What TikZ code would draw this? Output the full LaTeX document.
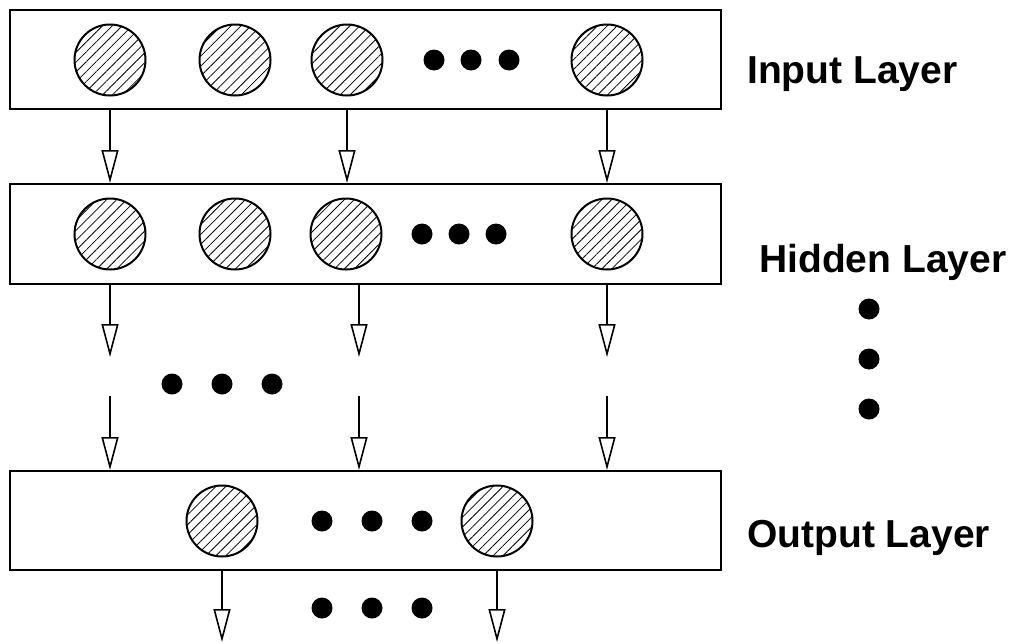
\documentclass[tikz,border=0pt]{standalone}
\usepackage{fontspec}
\setmainfont{Liberation Sans}
\usetikzlibrary{arrows.meta,patterns.meta}
\begin{document}
\begin{tikzpicture}[x=1pt,y=-1pt,
  layerbox/.style={draw,line width=2pt,rectangle,minimum width=711pt,inner sep=0pt},
  neuron/.style={circle,draw,line width=2pt,minimum size=71pt,inner sep=0pt,
    pattern={Lines[angle=45,distance=7pt,line width=0.8pt]}},
  bigdot/.style={circle,fill=black,minimum size=21pt,inner sep=0pt},
  arr/.style={line width=1.5pt,-{Triangle[open,length=33pt,width=17pt,line width=1.6pt]}},
  lbl/.style={anchor=base west,inner sep=0pt,font=\fontsize{39}{45}\selectfont\bfseries}]
\useasboundingbox (0,0) rectangle (1012,643);
% boxes
\node[layerbox,minimum height=99pt] (in) at (365.5,59.5) {};
\node[layerbox,minimum height=100pt] (hid) at (365.5,234) {};
\node[layerbox,minimum height=99pt] (out) at (365.5,520.5) {};
% input layer
\node[neuron] (i1) at (110,60) {};
\node[neuron] (i2) at (235,60) {};
\node[neuron] (i3) at (347,60) {};
\node[neuron] (i4) at (607,60) {};
\node[bigdot] (id1) at (434,60) {};
\node[bigdot] (id2) at (471,60) {};
\node[bigdot] (id3) at (509,60) {};
% hidden layer
\node[neuron] (h1) at (110,234) {};
\node[neuron] (h2) at (235,234) {};
\node[neuron] (h3) at (346,234) {};
\node[neuron] (h4) at (607,234) {};
\node[bigdot] (hd1) at (422,234) {};
\node[bigdot] (hd2) at (459,234) {};
\node[bigdot] (hd3) at (496,234) {};
% output layer
\node[neuron] (o1) at (222,521) {};
\node[neuron] (o2) at (497,521) {};
\node[bigdot] (od1) at (322,521) {};
\node[bigdot] (od2) at (372,521) {};
\node[bigdot] (od3) at (422,521) {};
% input -> hidden
\draw[arr] (in.south -| i1) -- (hid.north -| i1);
\draw[arr] (in.south -| i3) -- (hid.north -| i3);
\draw[arr] (in.south -| i4) -- (hid.north -| i4);
% hidden -> ... -> output
\coordinate (ca1) at (110,357);
\coordinate (ca2) at (359,357);
\coordinate (ca3) at (607,357);
\coordinate (cb1) at (110,396);
\coordinate (cb2) at (359,396);
\coordinate (cb3) at (607,396);
\draw[arr] (hid.south -| ca1) -- (ca1);
\draw[arr] (hid.south -| ca2) -- (ca2);
\draw[arr] (hid.south -| ca3) -- (ca3);
\draw[arr] (cb1) -- (out.north -| cb1);
\draw[arr] (cb2) -- (out.north -| cb2);
\draw[arr] (cb3) -- (out.north -| cb3);
\node[bigdot] (md1) at (172,384) {};
\node[bigdot] (md2) at (222,384) {};
\node[bigdot] (md3) at (272,384) {};
% output arrows
\coordinate (e1) at (222,642);
\coordinate (e2) at (497,642);
\draw[arr] (out.south -| o1) -- (e1);
\draw[arr] (out.south -| o2) -- (e2);
\node[bigdot] (bd1) at (322,608) {};
\node[bigdot] (bd2) at (372,608) {};
\node[bigdot] (bd3) at (422,608) {};
% labels
\node[lbl] (lin) at (747,83) {Input Layer};
\node[lbl] (lhid) at (759,272) {Hidden Layer};
\node[lbl] (lout) at (747,547) {Output Layer};
\node[bigdot] (vd1) at (869,309) {};
\node[bigdot] (vd2) at (869,359) {};
\node[bigdot] (vd3) at (869,409) {};
\end{tikzpicture}
\end{document}
